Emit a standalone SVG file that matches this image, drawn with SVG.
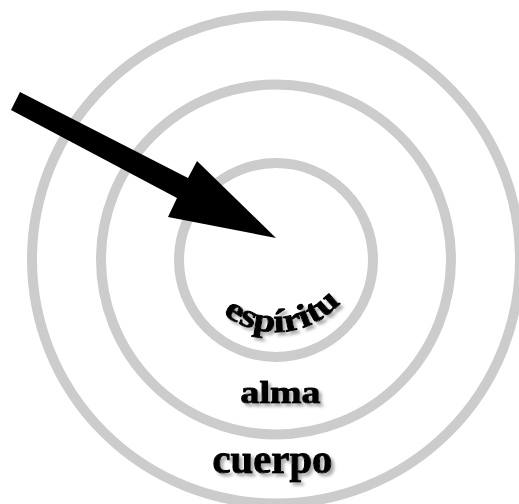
<svg xmlns="http://www.w3.org/2000/svg" width="519" height="504" viewBox="0 0 519 504">
  <defs>
    <style>
      .ring { fill: none; stroke: #cccccc; stroke-width: 10; }
      .lbl { font-family: "Liberation Serif", "Times New Roman", serif; font-weight: bold; fill: #000; stroke: #000; stroke-width: 1; stroke-linejoin: round; }
    </style>
    <filter id="shadow" x="-20%" y="-30%" width="150%" height="170%">
      <feDropShadow dx="3" dy="3" stdDeviation="1.5" flood-color="#999999" flood-opacity="0.8"/>
    </filter>
    <path id="arc" d="M 190 246 A 86 86 0 0 0 362 246"/>
  </defs>
  <rect width="519" height="504" fill="#ffffff"/>
  <g id="cuerpo">
    <circle class="ring" cx="276" cy="259.5" r="244"/>
    <text class="lbl" x="272.5" y="473" font-size="40" text-anchor="middle" textLength="120" lengthAdjust="spacingAndGlyphs" filter="url(#shadow)">cuerpo</text>
  </g>
  <g id="alma">
    <circle class="ring" cx="276" cy="259.5" r="175"/>
    <text class="lbl" x="280.5" y="403" font-size="31" text-anchor="middle" textLength="80" lengthAdjust="spacingAndGlyphs" filter="url(#shadow)">alma</text>
  </g>
  <g id="espiritu">
    <circle class="ring" cx="276" cy="260" r="97"/>
    <text class="lbl" font-size="33" filter="url(#shadow)"><textPath href="#arc" startOffset="53%" text-anchor="middle" textLength="130" lengthAdjust="spacingAndGlyphs">espíritu</textPath></text>
  </g>
  <g id="connectors">
    <polygon points="20,92 188,178 197,161 276,238 168,217 177,198 11,110" fill="#000000"/>
  </g>
</svg>
